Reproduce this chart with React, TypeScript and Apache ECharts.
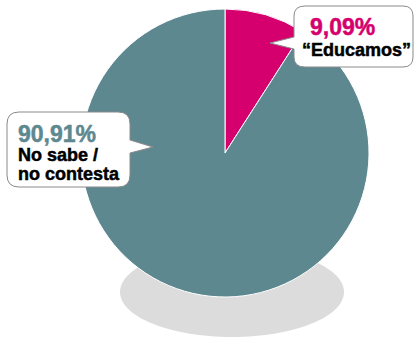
import React, { useEffect, useRef } from "react";
import * as echarts from "echarts";

const categories = ["“Educamos”", "No sabe / no contesta"];
const values = [9.09, 90.91];
const percentLabels = ["9,09%", "90,91%"];
const colors = ["#d5006d", "#5e8890"];

const bubble1 =
  "M 305 6 L 403 6 Q 413 6 413 16 L 413 57 Q 413 67 403 67 L 305 67 Q 294 67 294 57 L 294 49 L 270 43 L 294 37 L 294 16 Q 294 6 305 6 Z";
const bubble2 =
  "M 19 112 L 118 112 Q 130 112 130 124 L 130 140 L 153 147 L 130 153 L 130 175 Q 130 187 118 187 L 19 187 Q 7 187 7 175 L 7 124 Q 7 112 19 112 Z";

echarts.graphic.registerShape("bubbleA", echarts.graphic.extendPath(bubble1, {}));
echarts.graphic.registerShape("bubbleB", echarts.graphic.extendPath(bubble2, {}));

export default function App() {
  const ref = useRef<HTMLDivElement>(null);
  useEffect(() => {
    if (!ref.current) return;
    const chart = echarts.init(ref.current, null, { renderer: "svg" });
    const fontFamily = "'Liberation Sans', Arial, sans-serif";
    const txt = (text: string, x: number, y: number, size: number, fill: string) => ({
      type: "text",
      x,
      y,
      z: 101,
      style: {
        text,
        fill,
        stroke: fill,
        lineWidth: 0.5,
        fontSize: size,
        fontWeight: "bold",
        fontFamily,
        verticalAlign: "middle",
      },
    });
    chart.setOption({
      animation: false,
      backgroundColor: "#ffffff",
      graphic: [
        {
          type: "ellipse",
          shape: { cx: 232, cy: 292, rx: 112, ry: 45 },
          style: { fill: "#dcdcdc" },
          z: -10,
        },
        {
          type: "bubbleA",
          x: 0,
          y: 0,
          style: { fill: "#ffffff", stroke: "#8a8a8a", lineWidth: 1 },
          z: 100,
        },
        {
          type: "bubbleB",
          x: 0,
          y: 0,
          style: { fill: "#ffffff", stroke: "#8a8a8a", lineWidth: 1 },
          z: 100,
        },
        txt(percentLabels[0], 310, 26.5, 23, colors[0]),
        txt(categories[0], 302, 50, 18, "#000000"),
        txt(percentLabels[1], 18, 133.5, 23, colors[1]),
        txt("No sabe /", 18, 155, 18, "#000000"),
        txt("no contesta", 18, 173.5, 18, "#000000"),
      ],
      series: [
        {
          type: "pie",
          center: [225, 153],
          radius: 144,
          startAngle: 90,
          clockwise: true,
          label: { show: false },
          labelLine: { show: false },
          emphasis: { disabled: true },
          itemStyle: { borderColor: "#ffffff", borderWidth: 1 },
          z: 5,
          data: categories.map((c, i) => ({
            name: c,
            value: values[i],
            itemStyle: { color: colors[i] },
          })),
        },
      ],
    });
    return () => chart.dispose();
  }, []);
  return <div ref={ref} style={{ width: 415, height: 339, position: "absolute", left: 0, top: 0 }} />;
}
